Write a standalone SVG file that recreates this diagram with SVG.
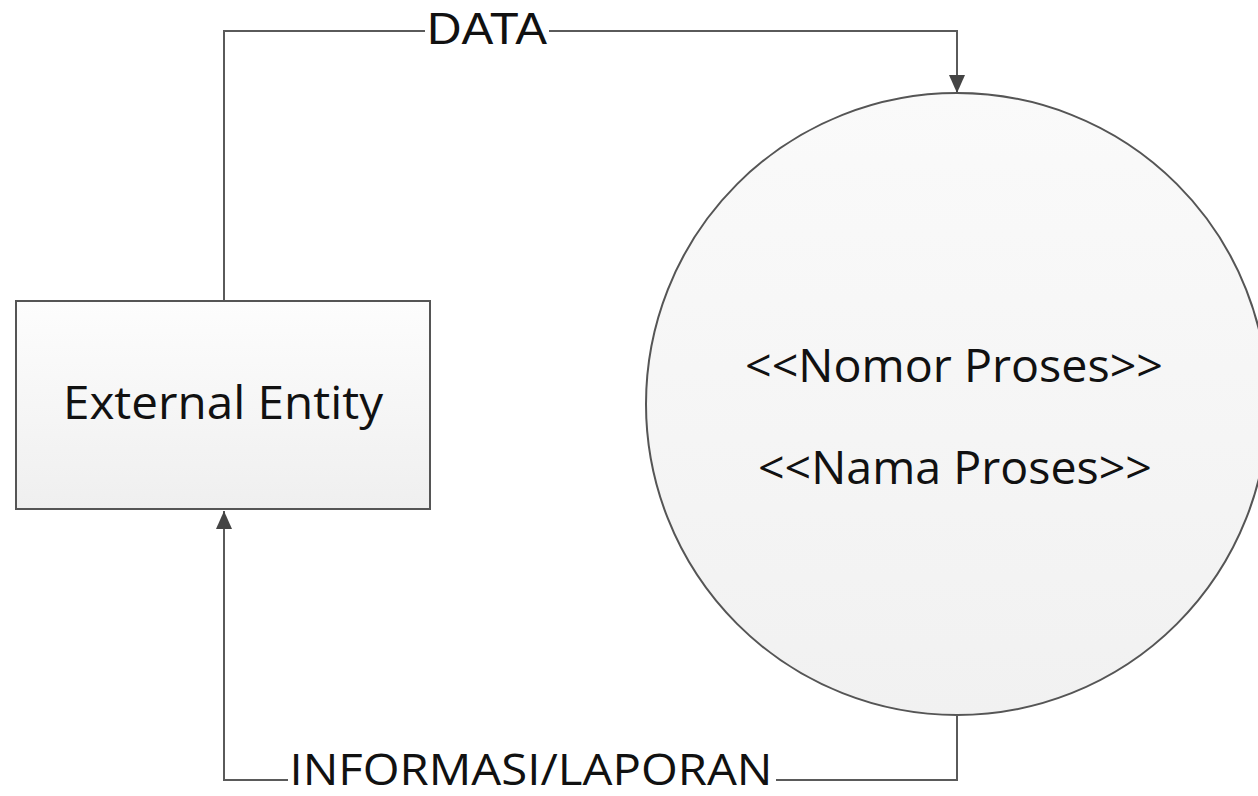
<svg xmlns="http://www.w3.org/2000/svg" width="1258" height="796" viewBox="0 0 1258 796">
<style>
.conn{fill:none;stroke:#5a5a5a;stroke-width:2}
.shape{stroke:#555;stroke-width:2}
.lbl{font-family:"Open Sans","Liberation Sans",sans-serif;fill:#111}
.arial{font-family:"Liberation Sans",Arial,sans-serif;fill:#111}
</style>
<defs>
<linearGradient id="g1" x1="0" y1="0" x2="0" y2="1">
<stop offset="0" stop-color="#fdfdfd"/><stop offset="1" stop-color="#efefef"/>
</linearGradient>
<linearGradient id="g2" x1="0" y1="0" x2="0" y2="1">
<stop offset="0" stop-color="#fafafa"/><stop offset="1" stop-color="#f1f1f1"/>
</linearGradient>
<marker id="arrB" viewBox="0 0 18 16" refX="18" refY="8" markerWidth="18" markerHeight="16" markerUnits="userSpaceOnUse" orient="auto">
<path d="M0,0 L18,8 L0,16 z" fill="#444"/>
</marker>
</defs>
<rect width="1258" height="796" fill="#fff"/>
<g id="process">
<circle cx="957" cy="404" r="311" fill="url(#g2)" class="shape"/>
<text class="lbl" x="954" y="382" font-size="45" text-anchor="middle" textLength="418" lengthAdjust="spacingAndGlyphs">&lt;&lt;Nomor Proses&gt;&gt;</text>
<text class="lbl" x="955" y="484" font-size="45" text-anchor="middle" textLength="394" lengthAdjust="spacingAndGlyphs">&lt;&lt;Nama Proses&gt;&gt;</text>
</g>
<g id="entity">
<rect x="16" y="301" width="414" height="208" fill="url(#g1)" class="shape"/>
<text class="lbl" x="223" y="419" font-size="46" text-anchor="middle" textLength="320" lengthAdjust="spacingAndGlyphs">External Entity</text>
</g>
<g id="connectors">
<path class="conn" d="M224,300 V31 H425 M549,31 H957 V93" marker-end="url(#arrB)"/>
<path class="conn" d="M957,715 V780 H776 M288,780 H224 V511" marker-end="url(#arrB)"/>
<text class="arial" x="487" y="44" font-size="44" text-anchor="middle" textLength="120" lengthAdjust="spacingAndGlyphs">DATA</text>
<text class="lbl" x="531" y="785" font-size="44" text-anchor="middle" textLength="483" lengthAdjust="spacingAndGlyphs">INFORMASI/LAPORAN</text>
</g>
</svg>
